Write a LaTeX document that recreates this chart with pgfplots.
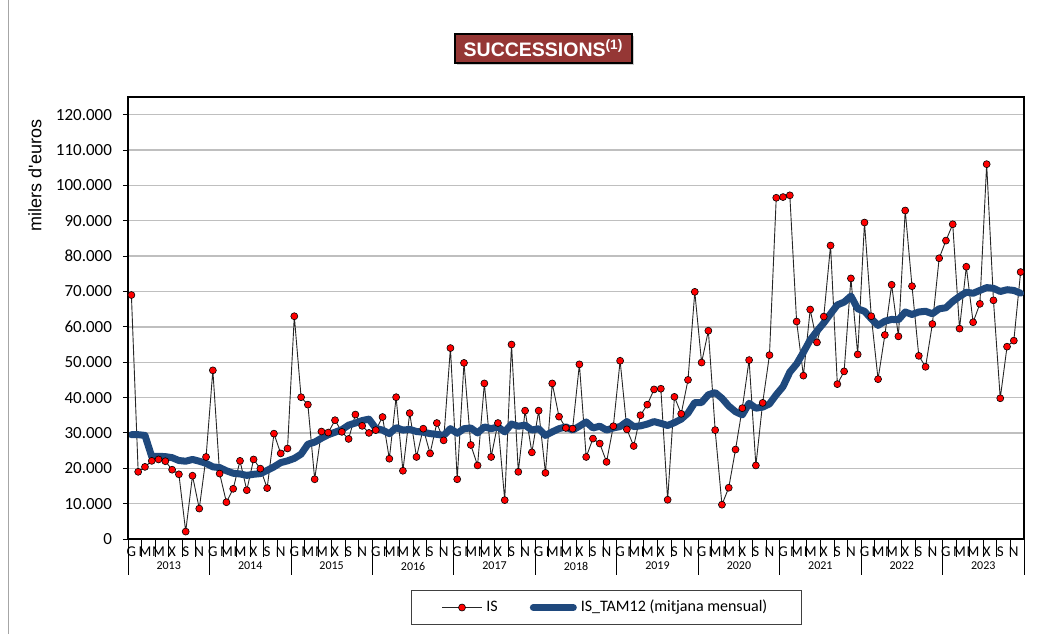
\documentclass[border=0pt]{standalone}
\usepackage{fontspec}
\setmainfont{Carlito}
\newfontfamily\arialfont{Liberation Sans}
\usepackage{pgfplots}
\usepackage{pgfplotstable}
\pgfplotsset{compat=1.18}
\definecolor{tamblue}{HTML}{1F497D}
\definecolor{titlered}{HTML}{953735}
\definecolor{gridgray}{HTML}{BFBFBF}

% month index (0 = Jan 2013), IS, IS_TAM12
\pgfplotstableread{
x is tam
0 69000 29500
1 19000 29500
2 20400 29300
3 22100 23300
4 22500 23400
5 22000 23300
6 19600 23000
7 18300 22200
8 2100 22000
9 17900 22500
10 8600 22000
11 23200 21400
12 47700 20400
13 18500 20200
14 10400 19300
15 14200 18600
16 22100 18400
17 13800 18000
18 22500 18300
19 19900 18500
20 14400 19400
21 29800 20400
22 24200 21600
23 25600 22100
24 63000 22800
25 40100 24000
26 38000 26800
27 16900 27400
28 30400 28500
29 30100 29500
30 33600 30200
31 30300 30900
32 28300 32200
33 35200 32800
34 32000 33500
35 30000 33900
36 30800 31300
37 34500 30800
38 22700 29800
39 40100 31500
40 19300 30800
41 35600 31000
42 23200 30400
43 31200 30200
44 24200 29800
45 32800 29600
46 27900 29300
47 54000 31200
48 16900 29900
49 49800 31200
50 26600 31400
51 20800 30000
52 44000 31700
53 23200 31200
54 32800 31700
55 11000 30300
56 55000 32500
57 19000 31900
58 36300 32200
59 24500 30800
60 36300 31200
61 18700 29300
62 44000 30300
63 34600 31200
64 31400 31700
65 31200 30800
66 49400 31900
67 23200 33100
68 28400 31400
69 27000 31900
70 21800 30800
71 31900 31400
72 50400 31800
73 31000 33200
74 26300 31800
75 35000 32000
76 38000 32500
77 42300 33200
78 42500 32700
79 11100 32100
80 40200 32900
81 35400 33900
82 45000 35600
83 69900 38600
84 49900 38600
85 58900 40800
86 30800 41400
87 9700 39800
88 14500 37600
89 25300 36000
90 37000 35100
91 50600 38400
92 20800 37000
93 38500 37300
94 52000 38200
95 96500 40800
96 96700 43100
97 97200 47200
98 61500 49500
99 46200 52800
100 64900 56300
101 55600 58800
102 62900 61100
103 83000 63700
104 43800 66200
105 47400 67000
106 73700 68700
107 52200 65100
108 89500 64400
109 63000 62300
110 45200 60400
111 57700 61600
112 71900 62100
113 57300 62000
114 92900 64200
115 71500 63500
116 51800 64200
117 48700 64400
118 60800 63700
119 79400 65100
120 84400 65400
121 89000 67200
122 59500 68600
123 77000 69800
124 61300 69500
125 66500 70300
126 106000 71100
127 67500 70900
128 39800 70000
129 54400 70500
130 56100 70300
131 75500 69500
}\succdata

\begin{document}
\begin{tikzpicture}
\useasboundingbox (0,0) rectangle (522pt,317pt);
\draw[gray!70, line width=0.5pt] (4pt,0) -- (4pt,317pt);
% title box
\fill[gray!40] (228.5pt,284.5pt) rectangle (317pt,299pt);
\node[fill=titlered, draw=black, line width=0.6pt, minimum width=88.5pt,
  minimum height=14.5pt, inner sep=0pt, text=white,
  font=\arialfont\bfseries\fontsize{9.75}{11}\selectfont]
  at (271.75pt,292.75pt) {SUCCESSIONS\textsuperscript{(1)}};
\node[rotate=90, font=\arialfont\fontsize{9}{10}\selectfont]
  at (17.5pt,229.25pt) {milers d\textquotesingle euros};
\begin{axis}[
  at={(64pt,47.5pt)}, anchor=south west,
  width=448pt, height=221pt, scale only axis,
  clip=false,
  xmin=-0.5, xmax=131.5,
  ymin=0, ymax=125000,
  axis line style={black, line width=0.6pt},
  tick align=outside,
  xtick pos=left, ytick pos=left,
  major tick length=2.5pt,
  xtick={0,2,...,130},
  xticklabels={G,M,M,X,S,N,G,M,M,X,S,N,G,M,M,X,S,N,G,M,M,X,S,N,G,M,M,X,S,N,G,M,M,X,S,N,G,M,M,X,S,N,G,M,M,X,S,N,G,M,M,X,S,N,G,M,M,X,S,N,G,M,M,X,S,N},
  xtick style={draw=none},
  xticklabel style={font=\fontsize{7.5}{8}\selectfont, yshift=2pt},
  ytick={0,10000,...,120000},
  ytick style={black, line width=0.5pt},
  scaled y ticks=false,
  yticklabel style={font=\fontsize{8.5}{10}\selectfont, xshift=-2pt,
    /pgf/number format/.cd, fixed, precision=0, 1000 sep={.}},
  /pgf/number format/assume math mode=true,
  ymajorgrids,
  grid style={gridgray, line width=0.7pt},
  legend columns=2,
  legend style={at={(0.534,-0.155)}, anchor=center, draw=black!75,
    line width=0.5pt, font=\fontsize{8}{10}\selectfont,
    inner xsep=15pt, inner ysep=3pt,
    /tikz/every even column/.append style={column sep=14pt}},
  legend image code/.code={\draw[mark repeat=2, mark phase=2, #1]
    plot coordinates {(0pt,0pt) (10pt,0pt) (20pt,0pt)};},
]
\addplot[black!85, line width=0.45pt, mark=*, mark size=1.75pt,
  mark options={fill=red, draw=black, line width=0.3pt, solid}]
  table[x=x, y=is] {\succdata};
\addlegendentry{IS}
\addplot[tamblue, line width=3.5pt, line cap=round, line join=round]
  table[x=x, y=tam] {\succdata};
\addlegendentry{IS\_TAM12 (mitjana mensual)}
\draw[black, line width=1pt] (rel axis cs:0,0) -- (rel axis cs:0,1);
% category separators (every two months) and year separators
\pgfplotsinvokeforeach{-0.5,1.5,...,131.5}{
  \draw[black, line width=0.4pt] (axis cs:#1,0) -- ([yshift=-9pt]axis cs:#1,0);}
\pgfplotsinvokeforeach{-0.5,11.5,...,131.5}{
  \draw[black, line width=0.4pt] (axis cs:#1,0) -- ([yshift=-18pt]axis cs:#1,0);}
\node[font=\fontsize{6}{7}\selectfont] at (axis cs:5.5,0) [yshift=-13.5pt] {2013};
\node[font=\fontsize{6}{7}\selectfont] at (axis cs:17.5,0) [yshift=-13.5pt] {2014};
\node[font=\fontsize{6}{7}\selectfont] at (axis cs:29.5,0) [yshift=-13.5pt] {2015};
\node[font=\fontsize{6}{7}\selectfont] at (axis cs:41.5,0) [yshift=-13.5pt] {2016};
\node[font=\fontsize{6}{7}\selectfont] at (axis cs:53.5,0) [yshift=-13.5pt] {2017};
\node[font=\fontsize{6}{7}\selectfont] at (axis cs:65.5,0) [yshift=-13.5pt] {2018};
\node[font=\fontsize{6}{7}\selectfont] at (axis cs:77.5,0) [yshift=-13.5pt] {2019};
\node[font=\fontsize{6}{7}\selectfont] at (axis cs:89.5,0) [yshift=-13.5pt] {2020};
\node[font=\fontsize{6}{7}\selectfont] at (axis cs:101.5,0) [yshift=-13.5pt] {2021};
\node[font=\fontsize{6}{7}\selectfont] at (axis cs:113.5,0) [yshift=-13.5pt] {2022};
\node[font=\fontsize{6}{7}\selectfont] at (axis cs:125.5,0) [yshift=-13.5pt] {2023};
\end{axis}
\end{tikzpicture}
\end{document}
